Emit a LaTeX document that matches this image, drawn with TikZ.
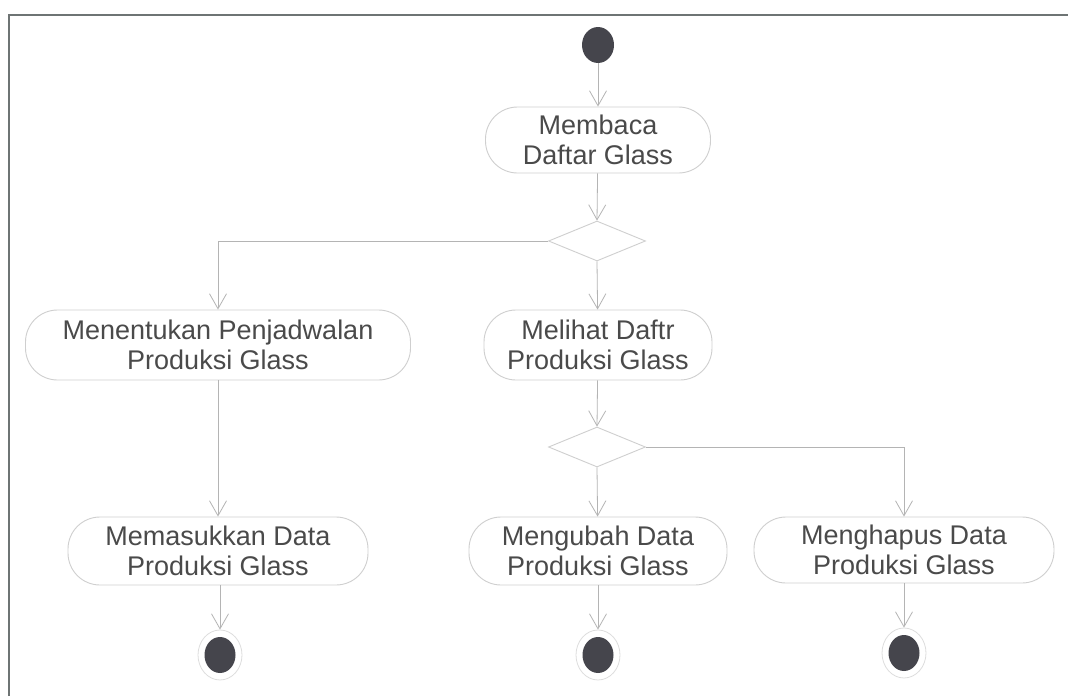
\documentclass[tikz,border=0pt]{standalone}
\usepackage{fontspec}
\setmainfont{Liberation Sans}
\usetikzlibrary{arrows.meta,shapes.geometric}
\definecolor{framec}{HTML}{6E7474}
\definecolor{edgec}{HTML}{B4B4B4}
\definecolor{shapec}{HTML}{CFCFCF}
\definecolor{textc}{HTML}{4A4A4A}
\definecolor{dotc}{HTML}{45454C}
\tikzset{
  activity/.style={draw=shapec, line width=0.9pt, rounded corners=32pt,
    fill=white, text=textc, align=center, inner sep=0pt,
    font=\fontsize{27}{30}\selectfont},
  decision/.style={diamond, draw=shapec, line width=0.9pt, aspect=2.45,
    minimum width=97pt, minimum height=40pt, inner sep=0pt},
  startdot/.style={ellipse, fill=dotc, minimum width=32pt, minimum height=36pt, inner sep=0pt},
  enddot/.style={ellipse, draw=shapec!70, line width=0.8pt, fill=white,
    minimum width=44pt, minimum height=50pt, inner sep=0pt,
    path picture={\fill[dotc] (path picture bounding box.center) ellipse (15.5pt and 18pt);}},
  flow/.style={draw=edgec, line width=0.8pt, -{Straight Barb[length=15pt,width=17pt,line width=0.8pt]}},
}
\begin{document}
\begin{tikzpicture}[x=1pt,y=-1pt]
  \useasboundingbox (0,0) rectangle (1068,696);
  \fill[white] (0,0) rectangle (1068,696);
  % outer frame (left and top edges)
  \draw[framec, line width=2pt] (9,696) -- (9,15) -- (1068,15);

  % nodes
  \node[startdot] (start) at (598,45) {};
  \node[activity, minimum width=225pt, minimum height=66pt] (baca) at (598,140)
    {Membaca\\Daftar Glass};
  \node[decision] (d1) at (597,241) {};
  \node[activity, minimum width=385pt, minimum height=70pt] (tentu) at (218,345)
    {Menentukan Penjadwalan\\Produksi Glass};
  \node[activity, minimum width=228pt, minimum height=70pt] (lihat) at (598,345)
    {Melihat Daftr\\Produksi Glass};
  \node[decision] (d2) at (597,447) {};
  \node[activity, minimum width=300pt, minimum height=68pt] (masuk) at (218,551)
    {Memasukkan Data\\Produksi Glass};
  \node[activity, minimum width=258pt, minimum height=68pt] (ubah) at (598,551)
    {Mengubah Data\\Produksi Glass};
  \node[activity, minimum width=300pt, minimum height=66pt] (hapus) at (904,550)
    {Menghapus Data\\Produksi Glass};
  \node[enddot] (end1) at (220,655) {};
  \node[enddot] (end2) at (598,655) {};
  \node[enddot] (end3) at (904,653) {};

  % control flows
  \draw[flow] (start) -- (baca);
  \draw[flow] (baca) -- (d1.north);
  \draw[flow] (d1.south) -- (lihat);
  \draw[flow] (d1.west) -| (tentu.north);
  \draw[flow] (tentu) -- (masuk);
  \draw[flow] (lihat) -- (d2.north);
  \draw[flow] (d2.south) -- (ubah);
  \draw[flow] (d2.east) -| (hapus.north);
  \draw[flow] (masuk.south -| end1) -- (end1);
  \draw[flow] (ubah) -- (end2);
  \draw[flow] (hapus) -- (end3);
\end{tikzpicture}
\end{document}
